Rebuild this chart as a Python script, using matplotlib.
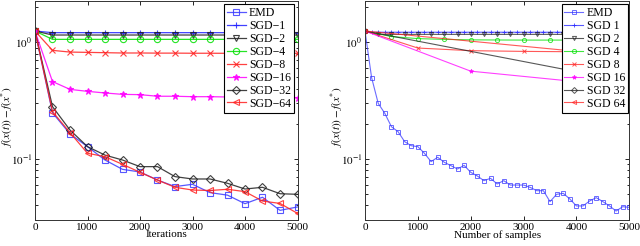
import matplotlib
matplotlib.use("Agg")
import matplotlib.pyplot as plt
from matplotlib.ticker import LogLocator, NullFormatter, FixedLocator

plt.rcParams['font.family'] = ['Liberation Serif', 'DejaVu Serif']
plt.rcParams['mathtext.fontset'] = 'stix'

# ---------------- data: left panel (vs iterations) ----------------
iters = [0, 333, 667, 1000, 1333, 1667, 2000, 2333, 2667, 3000, 3333, 3667, 4000, 4333, 4667, 5000]
left_emd   = [1.25, 0.249, 0.164, 0.1276, 0.098, 0.0815, 0.0774, 0.066, 0.058, 0.0607, 0.0515, 0.049, 0.0414, 0.047, 0.0363, 0.0388]
left_sgd1  = [1.25, 1.21, 1.21, 1.21, 1.21, 1.21, 1.21, 1.21, 1.21, 1.21, 1.21, 1.21, 1.21, 1.21, 1.21, 1.21]
left_sgd2  = [1.25, 1.155, 1.155, 1.155, 1.155, 1.155, 1.155, 1.155, 1.155, 1.155, 1.155, 1.155, 1.155, 1.155, 1.155, 1.155]
left_sgd4  = [1.25, 1.06, 1.06, 1.06, 1.06, 1.06, 1.06, 1.06, 1.06, 1.06, 1.06, 1.06, 1.06, 1.06, 1.06, 1.06]
left_sgd8  = [1.25, 0.853, 0.825, 0.82, 0.815, 0.81, 0.81, 0.808, 0.808, 0.806, 0.806, 0.805, 0.805, 0.805, 0.805, 0.805]
left_sgd16 = [1.25, 0.461, 0.395, 0.38, 0.368, 0.358, 0.356, 0.345, 0.345, 0.342, 0.342, 0.34, 0.338, 0.338, 0.337, 0.334]
left_sgd32 = [1.25, 0.281, 0.177, 0.1276, 0.108, 0.098, 0.086, 0.086, 0.0706, 0.0674, 0.0674, 0.0619, 0.0553, 0.0572, 0.0504, 0.0498]
left_sgd64 = [1.25, 0.255, 0.168, 0.112, 0.1047, 0.090, 0.0769, 0.066, 0.0572, 0.0542, 0.0537, 0.055, 0.0525, 0.0436, 0.0416, 0.0342]

# ---------------- data: right panel (vs number of samples) ----------------
samples_emd = [0, 125, 250, 375, 500, 625, 750, 875, 1000, 1125, 1250, 1375, 1500, 1625, 1750, 1875,
               2000, 2125, 2250, 2375, 2500, 2625, 2750, 2875, 3000, 3125, 3250, 3375, 3500, 3625,
               3750, 3875, 4000, 4125, 4250, 4375, 4500, 4625, 4750, 4875, 5000]
right_emd = [1.25, 0.498, 0.300, 0.246, 0.189, 0.1715, 0.1408, 0.130, 0.1275, 0.1118, 0.0949, 0.1034,
             0.0937, 0.0877, 0.0821, 0.0882, 0.0769, 0.0715, 0.0652, 0.0683, 0.0611, 0.0652, 0.0598,
             0.0598, 0.0598, 0.0571, 0.0535, 0.0535, 0.0431, 0.0498, 0.0508, 0.0454, 0.0396, 0.0396,
             0.0437, 0.0466, 0.0431, 0.0396, 0.0358, 0.0390, 0.0385]
samples_sgd1 = samples_emd
right_sgd1 = [1.25, 1.22, 1.22, 1.22, 1.22, 1.22, 1.22, 1.22, 1.22, 1.22, 1.22, 1.22, 1.22, 1.22,
              1.22, 1.22, 1.22, 1.22, 1.22, 1.22, 1.22, 1.22, 1.22, 1.22, 1.22, 1.22, 1.22, 1.22,
              1.22, 1.22, 1.22, 1.22, 1.22, 1.22, 1.22, 1.22, 1.22, 1.22, 1.22, 1.22, 1.22]
samples_sgd2 = [0, 250, 500, 750, 1000, 1250, 1500, 1750, 2000, 2250, 2500, 2750, 3000, 3250, 3500,
                3750, 4000, 4250, 4500, 4750, 5000]
right_sgd2 = [1.25, 1.17, 1.17, 1.17, 1.17, 1.17, 1.17, 1.17, 1.17, 1.17, 1.17, 1.17, 1.17, 1.17,
              1.17, 1.17, 1.17, 1.17, 1.17, 1.17, 1.17]
samples_sgd4 = [0, 500, 1000, 1500, 2000, 2500, 3000, 3500, 4000, 4500, 5000]
right_sgd4 = [1.25, 1.12, 1.076, 1.06, 1.05, 1.047, 1.045, 1.045, 1.045, 1.045, 1.045]
samples_sgd8 = [0, 1000, 2000, 3000, 4000, 5000]
right_sgd8 = [1.25, 0.893, 0.848, 0.836, 0.83, 0.83]
samples_sgd16 = [0, 2000, 4000, 6000]
right_sgd16 = [1.25, 0.566, 0.46, 0.42]
samples_sgd32 = [0, 4000, 8000]
right_sgd32 = [1.25, 0.56, 0.40]
samples_sgd64 = [0, 8000]
right_sgd64 = [1.25, 0.56]

left_labels = ['EMD', 'SGD\u22121', 'SGD\u22122', 'SGD\u22124', 'SGD\u22128', 'SGD\u221216', 'SGD\u221232', 'SGD\u221264']
right_labels = ['EMD', 'SGD 1', 'SGD 2', 'SGD 4', 'SGD 8', 'SGD 16', 'SGD 32', 'SGD 64']
xticks = [0, 1000, 2000, 3000, 4000, 5000]

colors = ['#3a3aff', '#2020ff', '#202020', '#00e000', '#ff2020', '#ff00ff', '#202020', '#ff2020']
markers = ['s', '+', 'v', 'o', 'x', '*', 'D', '<']
fills = ['none', 'full', 'none', 'none', 'full', 'full', 'none', 'none']

fig = plt.figure(figsize=(6.4, 2.46), dpi=100)
axL = fig.add_axes([35/640, 1 - 220/246, 262.5/640, 219/246])
axR = fig.add_axes([365/640, 1 - 220/246, 264.3/640, 219/246])

left_series = [left_emd, left_sgd1, left_sgd2, left_sgd4, left_sgd8, left_sgd16, left_sgd32, left_sgd64]
for y, c, m, f, lab in zip(left_series, colors, markers, fills, left_labels):
    axL.plot(iters, y, color=c, marker=m, fillstyle=f, markersize=4.5, lw=0.9,
             markeredgewidth=0.8, alpha=0.85, label=lab)

right_x = [samples_emd, samples_sgd1, samples_sgd2, samples_sgd4, samples_sgd8, samples_sgd16, samples_sgd32, samples_sgd64]
right_series = [right_emd, right_sgd1, right_sgd2, right_sgd4, right_sgd8, right_sgd16, right_sgd32, right_sgd64]
for x, y, c, m, f, lab in zip(right_x, right_series, colors, markers, fills, right_labels):
    axR.plot(x, y, color=c, marker=m, fillstyle=f, markersize=3.0, lw=0.8,
             markeredgewidth=0.7, alpha=0.75, label=lab)

for ax, xl, leg_x, w in [(axL, 'Iterations', 0.9867, 262.5), (axR, 'Number of samples', 0.996, 264.3)]:
    ax.set_yscale('log')
    ax.set_ylim(0.030, 2.26)
    ax.set_xlim(0, 5000)
    ax.set_xticks(xticks)
    ax.set_xticklabels([str(t) for t in xticks])
    ax.yaxis.set_major_locator(FixedLocator([0.1, 1.0]))
    ax.set_yticklabels(['$10^{-1}$', '$10^{0}$'])
    ax.yaxis.set_minor_locator(LogLocator(base=10, subs=range(2, 10)))
    ax.yaxis.set_minor_formatter(NullFormatter())
    ax.tick_params(direction='in', which='both', top=True, right=True, labelsize=8,
                   length=3, width=0.6, pad=2)
    ax.tick_params(which='minor', length=1.8)
    for s in ax.spines.values():
        s.set_linewidth(0.7)
        s.set_color('#333333')
    ax.set_xlabel(xl, fontsize=8, labelpad=-1)
    ax.set_ylabel('$f(x(t)) - f(x^{*})$', fontsize=8)
    ax.yaxis.set_label_coords(-19 / w, 0.47)
    leg = ax.legend(loc='upper right', bbox_to_anchor=(leg_x, 0.986), borderaxespad=0,
                    fontsize=8.5, fancybox=False, edgecolor='k', framealpha=1,
                    handlelength=1.6, handletextpad=0.3, labelspacing=0.08,
                    borderpad=0.25, markerscale=1.0)
    leg.get_frame().set_linewidth(0.8)

fig.savefig('out.png', dpi=100)
